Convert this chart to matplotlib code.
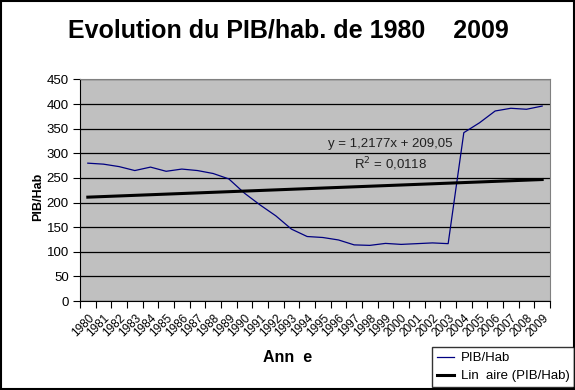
import numpy as np
import matplotlib.pyplot as plt
from matplotlib.patches import Rectangle

plt.rcParams['font.family'] = ['Liberation Sans', 'DejaVu Sans']

years = [str(y) for y in range(1980, 2010)]
pib_hab = [280, 278, 273, 265, 272, 263.5, 268, 265, 259, 248,
           219, 195, 173, 146, 131, 129, 124, 114, 113, 117,
           115, 116.5, 118, 116.5, 342, 362, 386, 391.5, 389.5, 396]
y_ticks = [0, 50, 100, 150, 200, 250, 300, 350, 400, 450]

fig = plt.figure(figsize=(5.75, 3.9), dpi=100)
ax = fig.add_axes([0.1391, 0.2282, 0.8174, 0.568])
ax.set_facecolor('#c0c0c0')

pos = np.arange(len(years))
ax.plot(pos, pib_hab, color='#000080', lw=0.9, label='PIB/Hab')

# linear trend, excel style x = 1..n
xn = pos + 1
a, b = np.polyfit(xn, pib_hab, 1)
ax.plot(pos, a * xn + b, color='black', lw=2.2, label='Lin  aire (PIB/Hab)')

ax.set_ylim(0, 450)
ax.set_xlim(-0.5, len(years) - 0.5)
ax.set_yticks(y_ticks)
ax.set_yticklabels([str(v) for v in y_ticks], fontsize=9.5)
ax.yaxis.grid(True, color='black', lw=0.9)
ax.set_axisbelow(True)
ax.tick_params(axis='y', direction='out', length=5, width=0.8, pad=3)

ax.set_xticks(pos)
ax.set_xticklabels(years, rotation=45, ha='right', va='top', fontsize=8.5,
                   rotation_mode='anchor')
ax.tick_params(axis='x', which='major', length=0, pad=8)
ax.set_xticks(np.arange(-0.5, len(years), 1), minor=True)
ax.tick_params(axis='x', which='minor', direction='out', length=5, width=0.8)

for s in ['top', 'right']:
    ax.spines[s].set_color('#808080')
ax.spines['left'].set_color('black')
ax.spines['bottom'].set_color('black')

ax.text(0.66, 0.707, 'y = 1,2177x + 209,05', transform=ax.transAxes,
        ha='center', va='center', fontsize=9.5, color='#202020')
ax.text(0.66, 0.617, 'R$^2$ = 0,0118', transform=ax.transAxes,
        ha='center', va='center', fontsize=9.5, color='#202020')

fig.text(288 / 575, 1 - 30 / 390, 'Evolution du PIB/hab. de 1980    2009',
         ha='center', va='center', fontsize=18, fontweight='bold')
fig.text(288 / 575, 1 - 358 / 390, 'Ann  e', ha='center', va='center',
         fontsize=11.5, fontweight='bold')
fig.text(38 / 575, 1 - 197 / 390, 'PIB/Hab', ha='center', va='center',
         rotation=90, fontsize=9, fontweight='bold')

leg = fig.legend(loc='lower right', bbox_to_anchor=(574 / 575, 3 / 390),
                 fontsize=9.5, frameon=True, fancybox=False, handlelength=1.3,
                 handletextpad=0.5, borderpad=0.35, labelspacing=0.45,
                 borderaxespad=0)
leg.get_frame().set_edgecolor('black')
leg.get_frame().set_linewidth(1.0)

fig.patches.append(Rectangle((0.002, 0.003), 0.996, 0.994, transform=fig.transFigure,
                             fill=False, edgecolor='black', lw=1.5))

fig.savefig('out.png', dpi=100)
